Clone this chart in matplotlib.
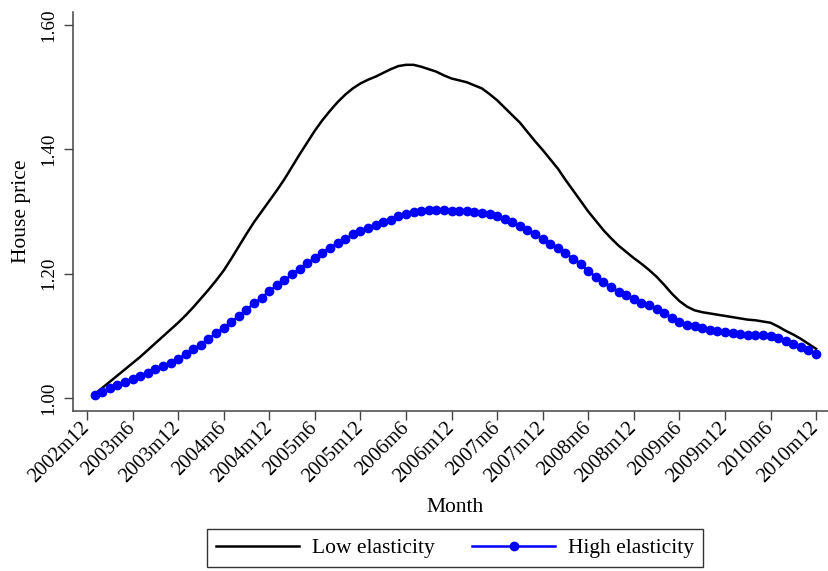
import numpy as np
import matplotlib.pyplot as plt

# Monthly index values, 2003m1 .. 2010m12
low_elasticity = [
    1.006, 1.016, 1.026, 1.036, 1.046, 1.056, 1.066, 1.077, 1.088, 1.099, 1.110, 1.121,
    1.133, 1.146, 1.160, 1.174, 1.189, 1.205, 1.224, 1.244, 1.264, 1.283, 1.300, 1.317,
    1.334, 1.352, 1.372, 1.392, 1.411, 1.430, 1.447, 1.462, 1.476, 1.488, 1.498, 1.506,
    1.512, 1.517, 1.523, 1.529, 1.534, 1.536, 1.536, 1.533, 1.529, 1.525, 1.519, 1.514,
    1.511, 1.508, 1.503, 1.498, 1.489, 1.479, 1.467, 1.455, 1.443, 1.428, 1.413, 1.399,
    1.384, 1.369, 1.351, 1.334, 1.317, 1.300, 1.285, 1.270, 1.257, 1.245, 1.235, 1.225,
    1.216, 1.206, 1.195, 1.182, 1.168, 1.156, 1.147, 1.141, 1.138, 1.136, 1.134, 1.132,
    1.130, 1.128, 1.126, 1.125, 1.123, 1.121, 1.115, 1.108, 1.102, 1.095, 1.087, 1.079,
]
high_elasticity = [
    1.004, 1.010, 1.016, 1.021, 1.026, 1.031, 1.035, 1.040, 1.046, 1.051, 1.057, 1.063,
    1.070, 1.078, 1.086, 1.095, 1.104, 1.113, 1.122, 1.132, 1.142, 1.152, 1.161, 1.172,
    1.181, 1.189, 1.199, 1.208, 1.217, 1.225, 1.234, 1.242, 1.249, 1.256, 1.263, 1.269,
    1.274, 1.278, 1.283, 1.287, 1.292, 1.296, 1.299, 1.301, 1.302, 1.302, 1.302, 1.301,
    1.301, 1.301, 1.300, 1.298, 1.296, 1.292, 1.288, 1.283, 1.277, 1.270, 1.263, 1.256,
    1.248, 1.241, 1.233, 1.224, 1.215, 1.204, 1.195, 1.186, 1.179, 1.171, 1.165, 1.159,
    1.153, 1.149, 1.143, 1.137, 1.129, 1.122, 1.117, 1.115, 1.112, 1.109, 1.107, 1.106,
    1.105, 1.103, 1.102, 1.101, 1.101, 1.100, 1.097, 1.092, 1.087, 1.082, 1.077, 1.071,
]
tick_labels = ["2002m12", "2003m6", "2003m12", "2004m6", "2004m12", "2005m6",
               "2005m12", "2006m6", "2006m12", "2007m6", "2007m12", "2008m6",
               "2008m12", "2009m6", "2009m12", "2010m6", "2010m12"]
y_ticks = [1.00, 1.20, 1.40, 1.60]

plt.rcParams['font.family'] = ['Liberation Serif', 'DejaVu Serif']

months = np.arange(1, len(low_elasticity) + 1)  # months after 2002m12

fig = plt.figure(figsize=(8.29, 5.71), dpi=100)
ax = fig.add_axes([73 / 829, 1 - 411 / 571, 1 - 73 / 829, 399 / 571])

ax.plot(months, low_elasticity, color='black', lw=1.8, label='Low elasticity')
ax.plot(months, high_elasticity, color='#0000ff', lw=1.8, marker='o', ms=6,
        label='High elasticity')

ax.set_xlim(-1.84, 97.7)
ax.set_ylim(0.979, 1.621)
ax.set_xticks(np.arange(0, 97, 6))
ax.set_xticklabels(tick_labels, rotation=45, ha='right', va='center',
                   rotation_mode='anchor', fontsize=14.8)
ax.set_yticks(y_ticks)
ax.set_yticklabels([f"{v:.2f}" for v in y_ticks], rotation=90, va='center',
                   fontsize=13.8)
ax.tick_params(axis='both', direction='out', length=6.5, width=1, color='#444444')
ax.tick_params(axis='x', pad=4)
ax.tick_params(axis='y', pad=5)

for side in ['top', 'right']:
    ax.spines[side].set_visible(False)
for side in ['left', 'bottom']:
    ax.spines[side].set_color('#444444')
    ax.spines[side].set_linewidth(1.1)

ax.set_ylabel("House price", fontsize=15.5)
ax.yaxis.set_label_coords(-42 / 756, 0.5)
ax.set_xlabel("Month", fontsize=15.5)
ax.xaxis.set_label_coords((455 - 73) / 756, -87 / 399)

leg = ax.legend(loc='center', bbox_to_anchor=((455 - 73) / 756, -137 / 399),
                ncol=2, fontsize=15.5, frameon=True, fancybox=False,
                handlelength=3.86, handletextpad=0.6, columnspacing=1.75,
                borderpad=0.4, markerscale=1.0)
leg.get_frame().set_edgecolor('black')
leg.get_frame().set_linewidth(1.0)

fig.savefig("out.png", dpi=100)
